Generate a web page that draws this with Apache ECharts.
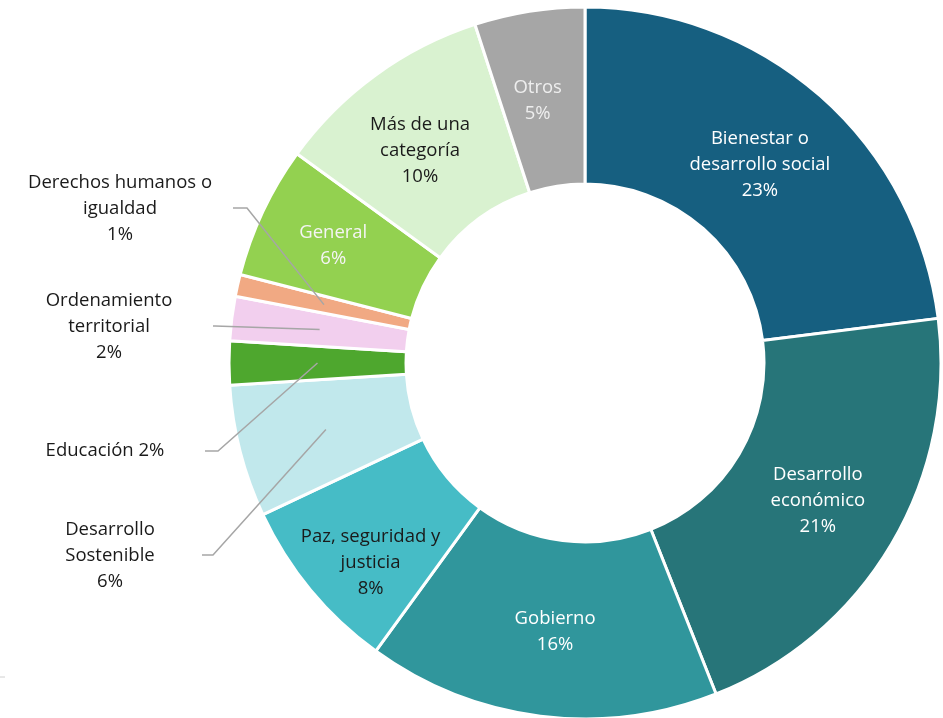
<!DOCTYPE html>
<html>
<head>
<meta charset="utf-8">
<script src="https://cdn.jsdelivr.net/npm/echarts@6/dist/echarts.min.js"></script>
<style>
  html, body { margin: 0; padding: 0; background: #ffffff; }
  #chart { width: 943px; height: 718px; }
</style>
</head>
<body>
<div id="chart"></div>
<script>
// Categories (clockwise from 12 o'clock) and their shares in percent
const categories = [
  'Bienestar o\ndesarrollo social',
  'Desarrollo\neconómico',
  'Gobierno',
  'Paz, seguridad y\njusticia',
  'Desarrollo\nSostenible',
  'Educación',
  'Ordenamiento\nterritorial',
  'Derechos humanos o\nigualdad',
  'General',
  'Más de una\ncategoría',
  'Otros'
];
const shares = [23, 21, 16, 8, 6, 2, 2, 1, 6, 10, 5];

const sliceColors = [
  '#165f80', '#277579', '#30969c', '#46bcc6', '#c1e8ec',
  '#4ea72e', '#f2cfee', '#f1a983', '#93d150', '#d9f2d0', '#a6a6a6'
];
const labelColors = [
  '#ffffff', '#ffffff', '#ffffff', '#1a1a1a', '#1a1a1a',
  '#1a1a1a', '#1a1a1a', '#1a1a1a', '#f4f4f4', '#1a1a1a', '#eeeeee'
];

// Small nudges for labels drawn inside the ring
const insideNudge = {
  'Bienestar o\ndesarrollo social': [-4, 5],
  'Paz, seguridad y\njusticia': [-6, 27],
  'General': [-7, -2],
  'Más de una\ncategoría': [-6, 7],
  'Otros': [-5, 5],
  'Gobierno': [4, 0]
};

// Slices whose labels sit outside the ring, on the left, with leader lines
const outsideLabels = {
  'Derechos humanos o\nigualdad': { x: 120, y: 209, bend: [247, 208], end: [233, 208] },
  'Ordenamiento\nterritorial': { x: 109, y: 327, bend: [215, 326], end: [213, 326] },
  'Educación': { x: 105, y: 451, bend: [218, 451], end: [205, 451] },
  'Desarrollo\nSostenible': { x: 110, y: 556, bend: [213, 555], end: [202, 555] }
};

const CX = 585, CY = 363, R_IN = 179, R_OUT = 356;
const R_MID = (R_IN + R_OUT) / 2;
const FONT = '"Open Sans", "Liberation Sans", sans-serif';

const chart = echarts.init(document.getElementById('chart'), null, { renderer: 'canvas' });

const total = shares.reduce((a, b) => a + b, 0);

const data = categories.map((name, i) => {
  const outside = !!outsideLabels[name];
  const labelText = name === 'Educación' ? name + ' ' + shares[i] + '%' : name + '\n' + shares[i] + '%';
  return {
    name: name,
    value: shares[i],
    itemStyle: { color: sliceColors[i] },
    label: {
      position: outside ? 'outside' : 'inside',
      color: labelColors[i],
      formatter: labelText
    },
    labelLine: { show: false }
  };
});

// Leader lines: from the middle of the slice (mid angle, mid radius) to the label
const leaderLines = [];
let cum = 0;
shares.forEach((v, i) => {
  const spec = outsideLabels[categories[i]];
  const midFrac = (cum + v / 2) / total;
  cum += v;
  if (!spec) return;
  const ang = Math.PI / 2 - midFrac * 2 * Math.PI; // clockwise from 12 o'clock
  const start = [CX + R_MID * Math.cos(ang), CY - R_MID * Math.sin(ang)];
  leaderLines.push({
    type: 'polyline',
    z: 10,
    shape: { points: [start, spec.bend, spec.end] },
    style: { stroke: '#a6a6a6', lineWidth: 1.5, fill: null }
  });
});

chart.setOption({
  animation: false,
  backgroundColor: '#ffffff',
  series: [{
    type: 'pie',
    center: [CX, CY],
    radius: [R_IN, R_OUT],
    startAngle: 90,
    clockwise: true,
    avoidLabelOverlap: false,
    itemStyle: { borderColor: '#ffffff', borderWidth: 3 },
    label: {
      show: true,
      fontFamily: FONT,
      fontSize: 18.5,
      lineHeight: 26,
      align: 'center',
      verticalAlign: 'middle'
    },
    labelLine: { show: false },
    labelLayout: function (params) {
      const name = categories[params.dataIndex];
      const spec = outsideLabels[name];
      if (spec) {
        return { x: spec.x, y: spec.y, align: 'center', verticalAlign: 'middle' };
      }
      const n = insideNudge[name];
      return n ? { dx: n[0], dy: n[1] } : {};
    },
    data: data
  }],
  graphic: leaderLines.concat([{
    type: 'line',
    shape: { x1: 0, y1: 677, x2: 5, y2: 677 },
    style: { stroke: '#d0d0d0', lineWidth: 1 }
  }])
});
</script>
</body>
</html>
